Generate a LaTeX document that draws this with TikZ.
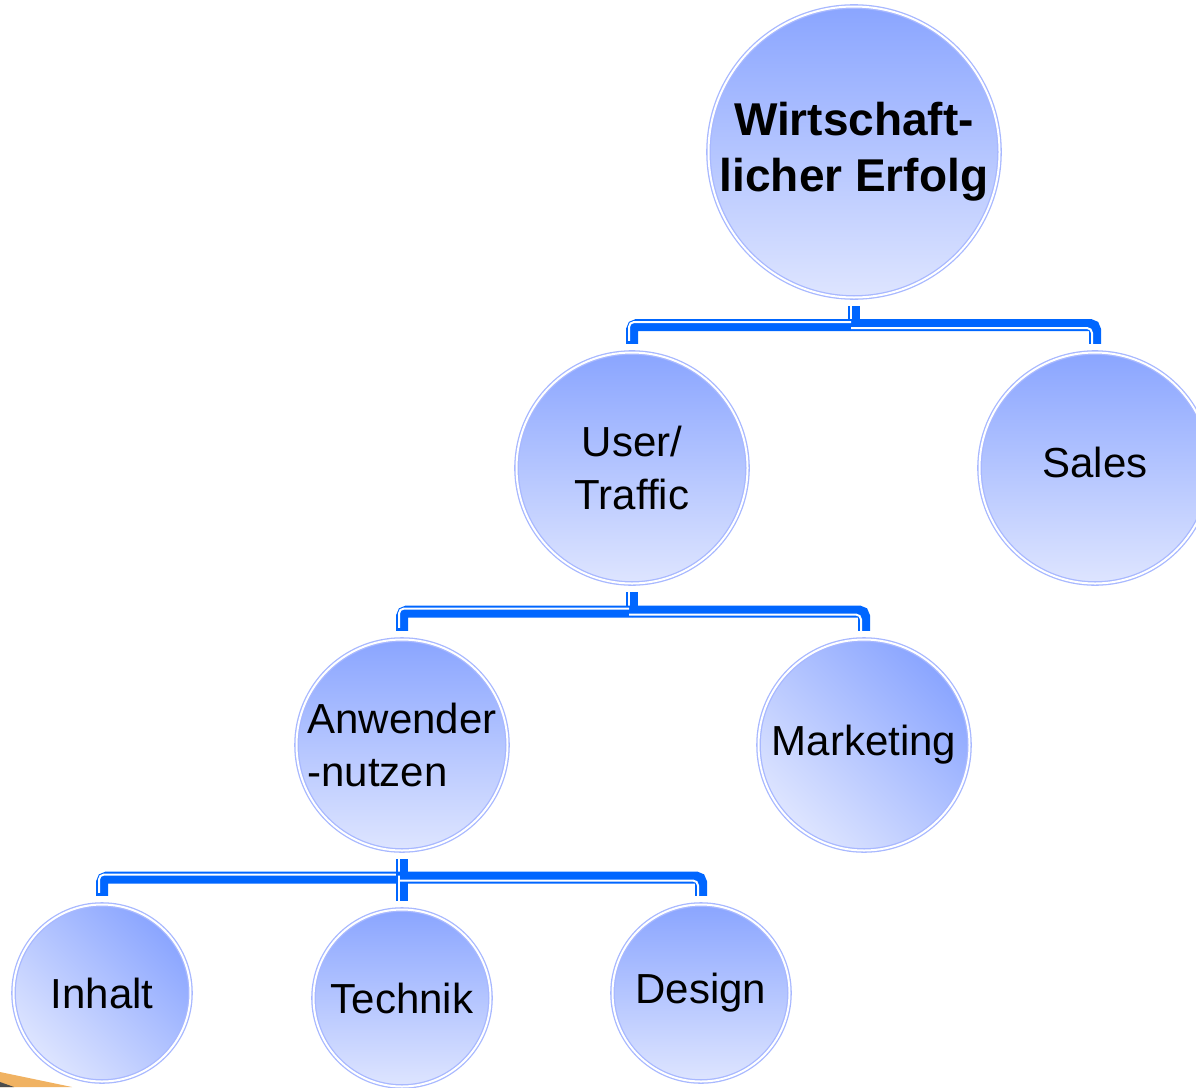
\documentclass[tikz,border=0pt]{standalone}
\usepackage{fontspec}
\setmainfont{Liberation Sans}
\usetikzlibrary{calc}
\definecolor{darkball}{RGB}{138,165,255}
\definecolor{lightball}{RGB}{222,229,255}
\definecolor{ring}{RGB}{168,184,255}
\definecolor{connblue}{RGB}{0,102,255}
\definecolor{wedge}{RGB}{240,178,98}
\begin{document}
\begin{tikzpicture}[x=1pt,y=-1pt,
	ball/.style={shape=circle,inner sep=0pt,draw=ring,double=white,double distance=2pt,line width=1.3pt,top color=darkball,bottom color=lightball,font=\fontsize{42}{53}\selectfont,align=center},
	slant/.style={top color=darkball,bottom color=lightball,shading angle=-45},
	conn/.style={draw=connblue,line width=12pt,rounded corners=5pt},
	hi/.style={postaction={draw=white,line width=2pt,transform canvas={shift={#1}}}}]
	\useasboundingbox (0,0) rectangle (1196,1087);
	\clip (0,0) rectangle (1196,1087);
	\fill[wedge] (0,1072) -- (72,1087) -- (0,1087) -- cycle;
	\fill[black!70] (0,1082) -- (14,1087) -- (0,1087) -- cycle;
	% circles
	\node[ball,minimum size=291pt,font=\bfseries\fontsize{46}{56}\selectfont] (erfolg) at (854,152) {Wirtschaft-\\licher Erfolg};
	\node[ball,minimum size=231pt] (user) at (632,468) {User/\\Traffic};
	\node[ball,minimum size=231pt] (sales) at (1095,468) {\raisebox{12pt}{Sales}};
	\node[ball,minimum size=211pt,align=left] (nutzen) at (402,745) {Anwender\\-nutzen};
	\node[ball,slant,minimum size=211pt] (marketing) at (864,745) {Marketing};
	\node[ball,slant,minimum size=177pt] (inhalt) at (102,993) {Inhalt};
	\node[ball,minimum size=177pt] (technik) at (402,998) {Technik};
	\node[ball,minimum size=177pt] (design) at (701,993) {Design};
	% connectors
	\coordinate (j1) at ($(erfolg.south)!.5!(erfolg.south|-user.north)$);
	\coordinate (j2) at ($(user.south)!.5!(user.south|-nutzen.north)$);
	\coordinate (j3) at ($(nutzen.south)!.5!(nutzen.south|-inhalt.north)$);
	\draw[conn,hi={(-3pt,0pt)}] ([yshift=-8pt]erfolg.south) -- (j1);
	\draw[conn,hi={(-3pt,3pt)}] (j1) -| ([yshift=8pt]user.north);
	\draw[conn,hi={(-3pt,-3pt)}] (j1) -| ([yshift=8pt]sales.north);
	\draw[conn,hi={(-3pt,0pt)}] ([yshift=-8pt]user.south) -- (j2);
	\draw[conn,hi={(-3pt,3pt)}] (j2) -| ([yshift=8pt]nutzen.north);
	\draw[conn,hi={(-3pt,-3pt)}] (j2) -| ([yshift=8pt]marketing.north);
	\draw[conn,hi={(-3pt,0pt)}] ([yshift=-8pt]nutzen.south) -- (j3);
	\draw[conn,hi={(-3pt,3pt)}] (j3) -| ([yshift=8pt]inhalt.north);
	\draw[conn,hi={(-3pt,-3pt)}] (j3) -| ([yshift=8pt]technik.north);
	\draw[conn,hi={(-3pt,-3pt)}] (j3) -| ([yshift=8pt]design.north);
\end{tikzpicture}
\end{document}
